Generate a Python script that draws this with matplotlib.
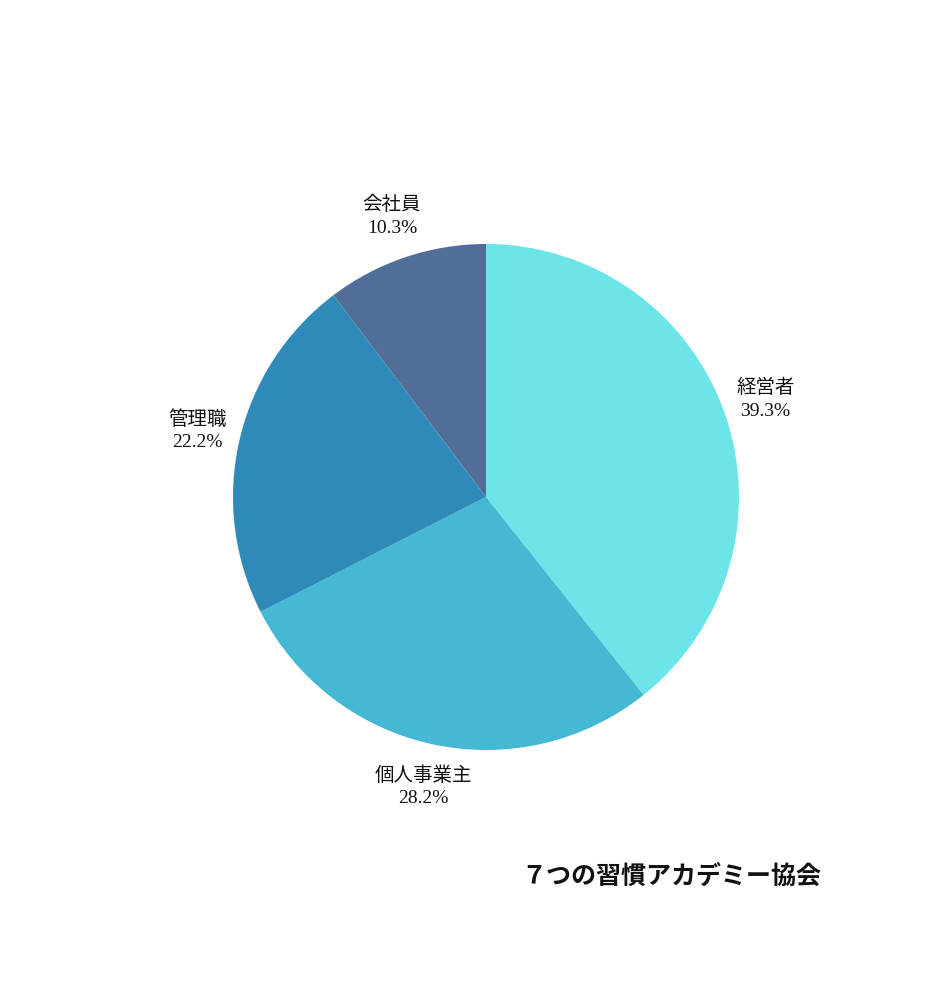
import matplotlib
matplotlib.use("Agg")
import matplotlib.pyplot as plt
import numpy as np

plt.rcParams['font.family'] = ['Liberation Serif', 'Noto Sans CJK JP', 'DejaVu Sans']

labels = ["経営者", "個人事業主", "管理職", "会社員"]
values = [39.3, 28.2, 22.2, 10.3]
colors = ["#6be5e8", "#45b8d4", "#2e8bb9", "#516e99"]
watermark = "７つの習慣アカデミー協会"

fig = plt.figure(figsize=(9.39, 9.92), dpi=100)
ax = fig.add_axes([233 / 939, 242 / 992, 506 / 939, 506 / 992])

wedges, _ = ax.pie(values, colors=colors, startangle=90, counterclock=False,
                   radius=1.0, wedgeprops=dict(linewidth=0))

total = sum(values)
start = 90.0
for lab, v in zip(labels, values):
    mid = start - v / total * 360 / 2
    start -= v / total * 360
    r = 1.17
    x = r * np.cos(np.radians(mid))
    y = r * np.sin(np.radians(mid))
    ax.text(x, y, f"{lab}\n{v:.1f}%", ha="center", va="center",
            fontsize=14, linespacing=1.4, color="#111111")

ax.set_xlim(-1, 1)
ax.set_ylim(-1, 1)
ax.set_aspect("equal")
ax.axis("off")

fig.text(671 / 939, 1 - 877 / 992, watermark, ha="center", va="center",
         fontsize=18, fontweight="bold", color="#111111")

fig.savefig("out.png", dpi=100)
